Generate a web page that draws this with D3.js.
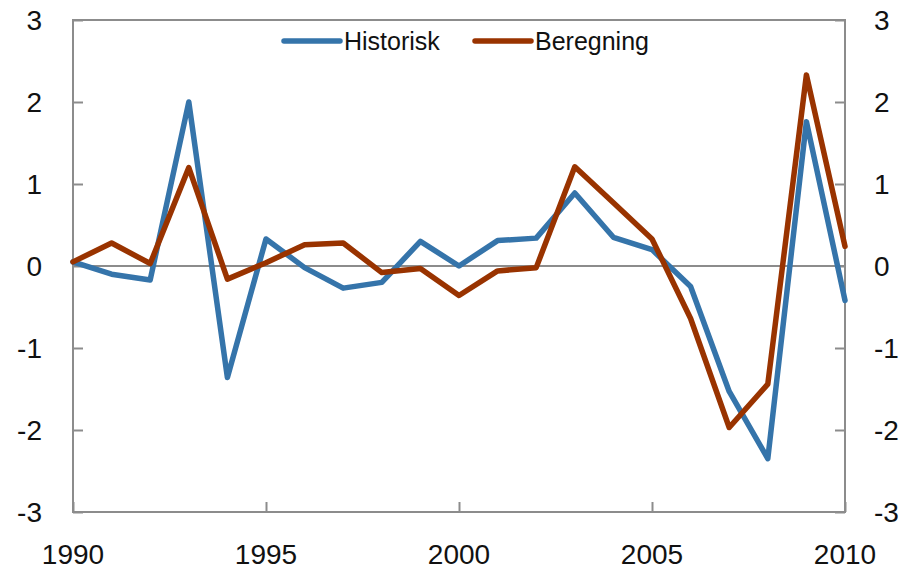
<!DOCTYPE html>
<html>
<head>
<meta charset="utf-8">
<script src="https://cdn.jsdelivr.net/npm/d3@7"></script>
<style>
  body { margin: 0; background: #fff; }
  svg text { font-family: "Liberation Sans", Arial, sans-serif; fill: #111; }
</style>
</head>
<body>
<div id="chart"></div>
<script>
// chart data
const years = d3.range(1990, 2011);
const historisk = [0.05, -0.10, -0.17, 2.00, -1.36, 0.33, -0.02, -0.27, -0.20, 0.30, 0.00,
                   0.31, 0.34, 0.89, 0.35, 0.20, -0.25, -1.53, -2.35, 1.76, -0.42];
const beregning = [0.05, 0.28, 0.03, 1.20, -0.16, 0.04, 0.26, 0.28, -0.08, -0.03, -0.36,
                   -0.06, -0.02, 1.21, 0.77, 0.33, -0.64, -1.97, -1.44, 2.33, 0.24];
const yTicks = [-3, -2, -1, 0, 1, 2, 3];
const xTicks = [1990, 1995, 2000, 2005, 2010];
const seriesNames = ["Historisk", "Beregning"];
const colors = ["#3574aa", "#993300"];

const width = 903;
const height = 569;
const margin = {left: 73, right: 58, top: 20, bottom: 57};

const svg = d3.select("#chart")
  .append("svg")
  .attr("width", width)
  .attr("height", height);

const x = d3.scaleLinear()
  .domain([1990, 2010])
  .range([margin.left, width - margin.right]);

const y = d3.scaleLinear()
  .domain([-3, 3])
  .range([height - margin.bottom, margin.top]);

const axisColor = "#8c8c8c";

// frame
svg.append("rect")
  .attr("x", x(1990))
  .attr("y", y(3))
  .attr("width", x(2010) - x(1990))
  .attr("height", y(-3) - y(3))
  .attr("fill", "none")
  .attr("stroke", axisColor)
  .attr("stroke-width", 2);

// zero line
svg.append("line")
  .attr("x1", x(1990)).attr("x2", x(2010))
  .attr("y1", y(0)).attr("y2", y(0))
  .attr("stroke", axisColor)
  .attr("stroke-width", 2);

// axes with ticks pointing inward, labels drawn separately
const left = svg.append("g")
  .attr("transform", `translate(${x(1990)},0)`)
  .call(d3.axisRight(y).tickValues(yTicks).tickSize(10).tickFormat(""));
const right = svg.append("g")
  .attr("transform", `translate(${x(2010)},0)`)
  .call(d3.axisLeft(y).tickValues(yTicks).tickSize(10).tickFormat(""));
const bottom = svg.append("g")
  .attr("transform", `translate(0,${y(-3)})`)
  .call(d3.axisTop(x).tickValues(xTicks).tickSize(10).tickFormat(""));

[left, right, bottom].forEach(g => {
  g.select(".domain").remove();
  g.selectAll(".tick line").attr("stroke", axisColor).attr("stroke-width", 2);
});

// tick labels
svg.selectAll(".ylabL")
  .data(yTicks)
  .enter()
  .append("text")
    .attr("class", "ylabL")
    .attr("x", 42)
    .attr("y", d => y(d))
    .attr("dy", "0.36em")
    .attr("text-anchor", "end")
    .attr("font-size", "28px")
    .text(d => d);

svg.selectAll(".ylabR")
  .data(yTicks)
  .enter()
  .append("text")
    .attr("class", "ylabR")
    .attr("x", 874)
    .attr("y", d => y(d))
    .attr("dy", "0.36em")
    .attr("text-anchor", "start")
    .attr("font-size", "28px")
    .text(d => d);

svg.selectAll(".xlab")
  .data(xTicks)
  .enter()
  .append("text")
    .attr("class", "xlab")
    .attr("x", d => x(d))
    .attr("y", 564)
    .attr("text-anchor", "middle")
    .attr("font-size", "28px")
    .text(d => d);

// lines
const line = d3.line()
  .x((d, i) => x(years[i]))
  .y(d => y(d));

[historisk, beregning].forEach((s, k) => {
  svg.append("path")
    .datum(s)
    .attr("fill", "none")
    .attr("stroke", colors[k])
    .attr("stroke-width", 5.5)
    .attr("stroke-linejoin", "round")
    .attr("stroke-linecap", "round")
    .attr("d", line);
});

// legend
const legendX = [284, 475];
seriesNames.forEach((name, k) => {
  svg.append("line")
    .attr("x1", legendX[k]).attr("x2", legendX[k] + 56)
    .attr("y1", 41).attr("y2", 41)
    .attr("stroke", colors[k])
    .attr("stroke-width", 5.5)
    .attr("stroke-linecap", "round");
  svg.append("text")
    .attr("x", legendX[k] + 60)
    .attr("y", 50)
    .attr("font-size", "25px")
    .text(name);
});
</script>
</body>
</html>
